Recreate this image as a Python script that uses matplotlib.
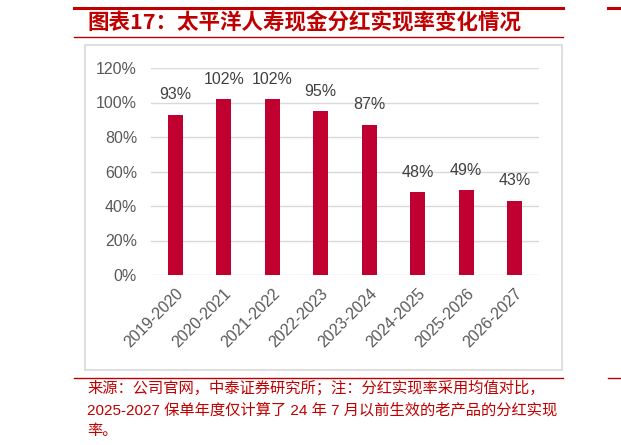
import numpy as np
import matplotlib.pyplot as plt
from matplotlib.patches import Rectangle
from matplotlib.lines import Line2D

plt.rcParams['font.family'] = ['Liberation Sans', 'Noto Sans CJK SC', 'DejaVu Sans']

# data
years = ['2019-2020', '2020-2021', '2021-2022', '2022-2023',
         '2023-2024', '2024-2025', '2025-2026', '2026-2027']
ratio = [93, 102, 102, 95, 87, 48, 49, 43]
yticks = [0, 20, 40, 60, 80, 100, 120]

title = '图表17：太平洋人寿现金分红实现率变化情况'
note1 = '来源：公司官网，中泰证券研究所；注：分红实现率采用均值对比，'
note2 = '2025-2027 保单年度仅计算了 24 年 7 月以前生效的老产品的分红实现'
note3 = '率。'

W, H = 621, 445
red = '#C00000'
bar_col = '#C00030'
grey = '#595959'

fig = plt.figure(figsize=(W / 100, H / 100), dpi=100)

def fx(px):
    return px / W

def fy(py):
    return 1 - py / H

# header / footer lines
fig.add_artist(Line2D([fx(74), fx(563)], [fy(8), fy(8)], color=red, lw=2.2))
fig.add_artist(Line2D([fx(74), fx(563)], [fy(37), fy(37)], color=red, lw=1.0))
fig.add_artist(Line2D([fx(74), fx(563)], [fy(378), fy(378)], color=red, lw=1.0))
fig.add_artist(Line2D([fx(608), fx(621)], [fy(8), fy(8)], color=red, lw=2.2))
fig.add_artist(Line2D([fx(608), fx(621)], [fy(378), fy(378)], color=red, lw=1.0))

# chart frame
fig.add_artist(Rectangle((fx(85), fy(370)), fx(562) - fx(85), fy(45) - fy(370),
                         fill=False, edgecolor='#D9D9D9', lw=1.2))

fig.text(fx(87), fy(23), title, color=red, fontsize=15.5, fontweight='bold',
         va='center', ha='left', family=['Noto Sans CJK SC', 'DejaVu Sans'])

ax = fig.add_axes([fx(151), fy(275), fx(539) - fx(151), fy(68) - fy(275)])
x = np.arange(len(years))
bars = ax.bar(x, ratio, width=0.31, color=bar_col, zorder=3)
for xi, v in zip(x, ratio):
    ax.annotate(f'{v}%', (xi, v), xytext=(0, 9), textcoords='offset points',
                ha='center', va='bottom', fontsize=11.5, color='#404040')

ax.set_xlim(-0.5, len(years) - 0.5)
ax.set_ylim(0, 120)
ax.set_yticks(yticks)
ax.set_yticklabels([f'{t}%' for t in yticks])
ax.set_xticks(x)
ax.set_xticklabels(years, rotation=45, ha='right', rotation_mode='anchor')
ax.tick_params(axis='both', length=0, labelsize=11.5, labelcolor=grey)
ax.tick_params(axis='y', pad=10)
ax.tick_params(axis='x', pad=8)
ax.grid(axis='y', color='#D9D9D9', lw=1.0, zorder=0)
for s in ax.spines.values():
    s.set_visible(False)

nfam = ['Liberation Sans', 'Noto Sans CJK SC']
fig.text(fx(87), fy(388), note1, color=red, fontsize=11, va='center', family=nfam)
fig.text(fx(87), fy(410), note2, color=red, fontsize=11, va='center', family=nfam)
fig.text(fx(87), fy(431), note3, color=red, fontsize=11, va='center', family=nfam)

fig.savefig('out.png', dpi=100)
